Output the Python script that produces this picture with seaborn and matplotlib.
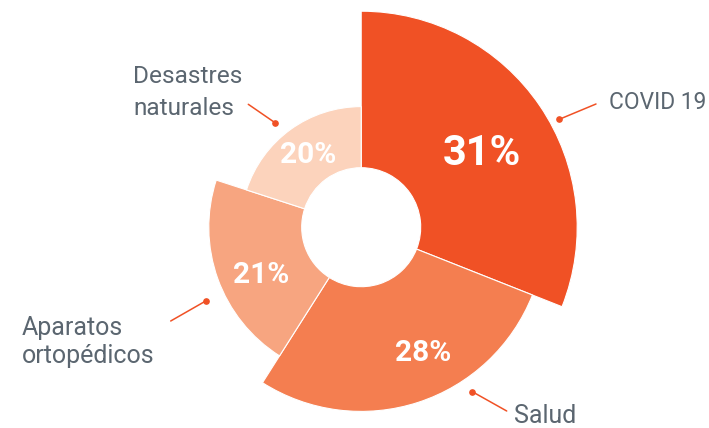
import matplotlib
matplotlib.use("Agg")
import matplotlib.pyplot as plt
from matplotlib.patches import Wedge
import seaborn as sns
import numpy as np

# ---- data ----
categories = ["COVID 19", "Salud", "Aparatos\nortopédicos", "Desastres\nnaturales"]
values = [31, 28, 21, 20]
pct_labels = ["31%", "28%", "21%", "20%"]
colors = ["#F05125", "#F47E50", "#F7A580", "#FCD3BC"]

# ---- style / layout (pixels, y from top) ----
sns.set_theme(style="white")
plt.rcParams["font.family"] = ["Roboto", "DejaVu Sans"]
W, H = 709, 428
cx, cy = 361.2, 227.2
hole_r = 59.5
r_max, r_step = 216.0, 31.8
text_color = "#5B6670"
line_color = "#F05125"

fig = plt.figure(figsize=(W / 100, H / 100), dpi=100)
ax = fig.add_axes([0, 0, 1, 1])
ax.set_xlim(0, W)
ax.set_ylim(H, 0)
ax.set_aspect("equal")
ax.axis("off")

palette = sns.color_palette(colors)
order = np.argsort(np.argsort(-np.array(values)))  # rank 0 = largest
total = sum(values)
start = 0.0
for i, v in enumerate(values):
    sweep = 360.0 * v / total
    r_out = r_max - r_step * order[i]
    # clockwise from 12 o'clock on an inverted-y axis
    w = Wedge((cx, cy), r_out, start - 90, start + sweep - 90,
              width=r_out - hole_r, facecolor=palette[i],
              edgecolor="white", linewidth=0.8)
    ax.add_patch(w)
    start += sweep

# percentage labels (center x, baseline y)
pct_pos = [(481.7, 165.0), (423.0, 361.0), (261.3, 283.3), (307.8, 163.3)]
pct_size = [30, 21.5, 21.5, 21.5]
for lab, (x, y), s in zip(pct_labels, pct_pos, pct_size):
    ax.text(x, y, lab, ha="center", va="baseline", color="white",
            fontsize=s, fontweight="bold")

# category labels: lines (left x, baselines, font size)
cat_pos = [(609, [109.3], 16.4), (514, [423.3], 18), (22, [335.0, 363.3], 18),
           (133, [83.0, 115.0], 17.6)]
for lab, (x, ys, fs) in zip(categories, cat_pos):
    for line, y in zip(lab.split("\n"), ys):
        ax.text(x, y, line, ha="left", va="baseline", color=text_color,
                fontsize=fs)

# leader lines: (text end, dot)
leaders = [((596, 104), (559.3, 119.3)),
           ((506.7, 411), (472.3, 391.7)),
           ((170.7, 321), (205.7, 301)),
           ((248.3, 104.3), (275, 122.7))]
for (x0, y0), (x1, y1) in leaders:
    ax.plot([x0, x1], [y0, y1], color=line_color, lw=1.1, solid_capstyle="round")
    ax.plot([x1], [y1], "o", color=line_color, ms=3.8)

fig.savefig("out.png", dpi=100)
